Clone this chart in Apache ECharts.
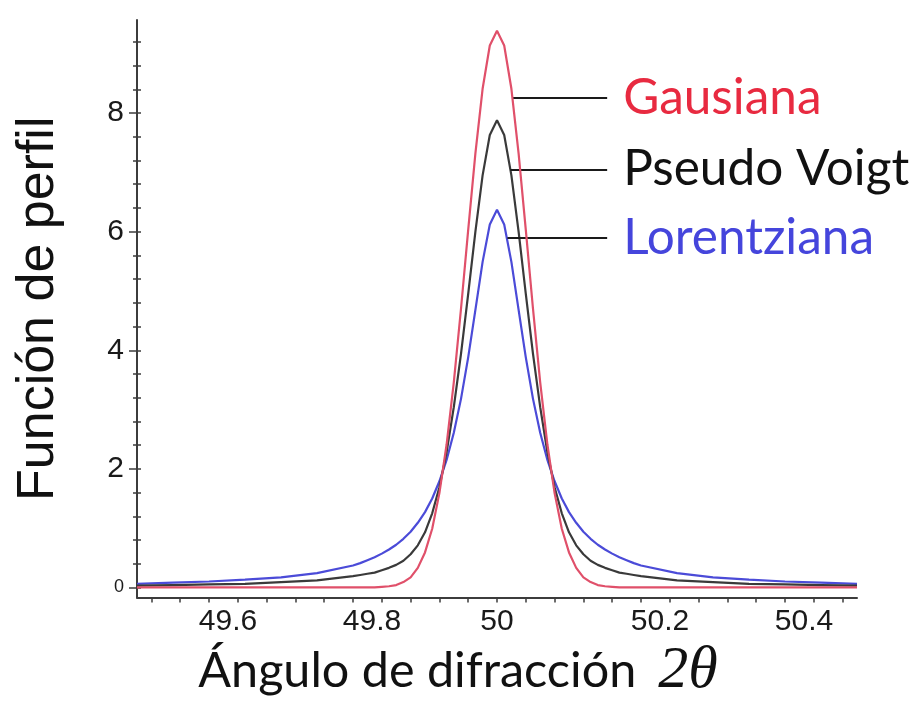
<!DOCTYPE html>
<html>
<head>
<meta charset="utf-8">
<script src="https://cdn.jsdelivr.net/npm/echarts@6/dist/echarts.min.js"></script>
<style>
  html, body { margin: 0; padding: 0; background: #fff; }
  #chart { width: 915px; height: 704px; }
</style>
</head>
<body>
<div id="chart"></div>
<script>
// Diffraction angle 2θ (degrees)
const angle = [
  49.5, 49.55, 49.6, 49.65, 49.7, 49.75,
  49.8, 49.81, 49.82, 49.83, 49.84, 49.85, 49.86, 49.87, 49.88, 49.89,
  49.9, 49.91, 49.92, 49.93, 49.94, 49.95, 49.96, 49.97, 49.98, 49.99,
  50,
  50.01, 50.02, 50.03, 50.04, 50.05, 50.06, 50.07, 50.08, 50.09, 50.1,
  50.11, 50.12, 50.13, 50.14, 50.15, 50.16, 50.17, 50.18, 50.19, 50.2,
  50.25, 50.3, 50.35, 50.4, 50.45, 50.5
];

// Profile function values for each line shape
const gausiana = [
  0, 0, 0, 0, 0, 0,
  0, 0, 0, 0, 0.01, 0.02, 0.04, 0.09, 0.17, 0.33,
  0.59, 0.99, 1.59, 2.41, 3.46, 4.70, 6.03, 7.32, 8.41, 9.14,
  9.39,
  9.14, 8.41, 7.32, 6.03, 4.70, 3.46, 2.41, 1.59, 0.99, 0.59,
  0.33, 0.17, 0.09, 0.04, 0.02, 0.01, 0, 0, 0, 0,
  0, 0, 0, 0, 0, 0
];
const pseudoVoigt = [
  0.03, 0.04, 0.05, 0.06, 0.09, 0.12,
  0.19, 0.21, 0.23, 0.25, 0.29, 0.33, 0.38, 0.45, 0.56, 0.71,
  0.93, 1.25, 1.69, 2.28, 3.04, 3.94, 4.95, 6.00, 6.95, 7.63,
  7.88,
  7.63, 6.95, 6.00, 4.95, 3.94, 3.04, 2.28, 1.69, 1.25, 0.93,
  0.71, 0.56, 0.45, 0.38, 0.33, 0.29, 0.25, 0.23, 0.21, 0.19,
  0.12, 0.09, 0.06, 0.05, 0.04, 0.03
];
const lorentziana = [
  0.06, 0.08, 0.10, 0.13, 0.17, 0.24,
  0.37, 0.41, 0.46, 0.51, 0.57, 0.64, 0.72, 0.82, 0.94, 1.09,
  1.27, 1.50, 1.79, 2.15, 2.61, 3.18, 3.88, 4.68, 5.49, 6.12,
  6.37,
  6.12, 5.49, 4.68, 3.88, 3.18, 2.61, 2.15, 1.79, 1.50, 1.27,
  1.09, 0.94, 0.82, 0.72, 0.64, 0.57, 0.51, 0.46, 0.41, 0.37,
  0.24, 0.17, 0.13, 0.10, 0.08, 0.06
];

// Axis tick values
const xLabelTicks = [49.6, 49.8, 50, 50.2, 50.4];
const xMinorTicks = [49.52, 49.56, 49.6, 49.64, 49.68, 49.72, 49.76, 49.8, 49.84, 49.88, 49.92, 49.96,
  50, 50.04, 50.08, 50.12, 50.16, 50.2, 50.24, 50.28, 50.32, 50.36, 50.4, 50.44, 50.48];
const yLabelTicks = [0, 2, 4, 6, 8];
const yMinorTicks = [0, 0.4, 0.8, 1.2, 1.6, 2, 2.4, 2.8, 3.2, 3.6, 4, 4.4, 4.8, 5.2, 5.6, 6,
  6.4, 6.8, 7.2, 7.6, 8, 8.4, 8.8, 9.2];

// Callout anchors: [angle on the curve, profile height, angle where the leader ends]
const callouts = {
  'Gausiana':     [50.0216, 8.26, 50.153],
  'Pseudo Voigt': [50.0185, 7.05, 50.153],
  'Lorentziana':  [50.0145, 5.90, 50.153]
};

const X_MIN = 49.5, X_MAX = 50.5, Y_MIN = -0.17, Y_MAX = 9.57;
const AXIS_COLOR = '#3c3c3c';

function pairs(ys) { return angle.map((x, i) => [x, ys[i]]); }

function calloutLine(name, color) {
  const c = callouts[name];
  return {
    silent: true,
    symbol: 'none',
    animation: false,
    lineStyle: { color: '#1a1a1a', width: 2, type: 'solid' },
    label: {
      show: true,
      position: 'end',
      distance: 16,
      formatter: name,
      color: color,
      fontFamily: 'Lato',
      fontSize: 49.5
    },
    data: [[{ coord: [c[0], c[1]] }, { coord: [c[2], c[1]] }]]
  };
}

function yAxisBase(extra) {
  return Object.assign({
    type: 'value',
    min: Y_MIN,
    max: Y_MAX,
    position: 'left',
    splitLine: { show: false },
    axisLine: { show: false, onZero: false },
    axisLabel: { show: false },
    axisTick: { show: false }
  }, extra);
}

const chart = echarts.init(document.getElementById('chart'), null, { renderer: 'canvas' });

chart.setOption({
  animation: false,
  backgroundColor: '#ffffff',
  grid: {
    left: 137, right: 58, top: 20, bottom: 106.5,
    containLabel: false,
    outerBoundsMode: 'none'
  },
  xAxis: {
    type: 'value',
    min: X_MIN,
    max: X_MAX,
    splitLine: { show: false },
    axisLine: { show: true, onZero: false, lineStyle: { color: AXIS_COLOR, width: 2 } },
    axisTick: {
      show: true, inside: false, length: 5,
      customValues: xMinorTicks,
      lineStyle: { color: AXIS_COLOR, width: 1.5 }
    },
    axisLabel: {
      show: true,
      customValues: xLabelTicks,
      margin: 9,
      formatter: v => (Math.abs(v - 50) < 1e-9 ? '{c|50}' : '{s|' + v.toFixed(1) + '}'),
      rich: {
        c: { fontFamily: 'Liberation Sans', fontSize: 30, color: '#1a1a1a' },
        s: { fontFamily: 'Liberation Sans', fontSize: 30, color: '#1a1a1a', padding: [0, 0, 0, 38] }
      }
    },
    name: '{a|Ángulo de difracción}{b|2θ}',
    nameLocation: 'middle',
    nameGap: 34,
    nameTextStyle: {
      padding: [0, 78, 0, 0],
      rich: {
        a: { fontFamily: 'Lato', fontSize: 48.5, color: '#111' },
        b: { fontFamily: 'Liberation Serif', fontStyle: 'italic', fontSize: 60, color: '#111', padding: [0, 0, 0, 22] }
      }
    }
  },
  yAxis: [
    yAxisBase({
      axisLine: { show: true, onZero: false, lineStyle: { color: AXIS_COLOR, width: 2 } },
      axisTick: {
        show: true, inside: false, length: 8,
        customValues: yLabelTicks,
        lineStyle: { color: AXIS_COLOR, width: 1.5 }
      },
      axisLabel: {
        show: true,
        customValues: yLabelTicks,
        margin: 13,
        formatter: v => (v === 0 ? '{z|0}' : '{n|' + v + '}'),
        rich: {
          n: { fontFamily: 'Liberation Sans', fontSize: 30, color: '#1a1a1a' },
          z: { fontFamily: 'Liberation Sans', fontSize: 18, color: '#1a1a1a' }
        }
      },
      name: 'Función de perfil',
      nameLocation: 'middle',
      nameGap: 72,
      nameTextStyle: { fontFamily: 'Liberation Sans', fontSize: 52, color: '#111' }
    }),
    yAxisBase({
      axisTick: {
        show: true, inside: false, length: 4,
        customValues: yMinorTicks,
        lineStyle: { color: AXIS_COLOR, width: 1.5 }
      }
    }),
    yAxisBase({
      axisTick: {
        show: true, inside: true, length: 4,
        customValues: yMinorTicks,
        lineStyle: { color: AXIS_COLOR, width: 1.5 }
      }
    })
  ],
  series: [
    {
      name: 'Lorentziana',
      type: 'line',
      data: pairs(lorentziana),
      showSymbol: false,
      smooth: false,
      lineStyle: { color: '#4b4bd8', width: 2.2 },
      z: 3,
      markLine: calloutLine('Lorentziana', '#4545dc')
    },
    {
      name: 'Pseudo Voigt',
      type: 'line',
      data: pairs(pseudoVoigt),
      showSymbol: false,
      smooth: false,
      lineStyle: { color: '#3a3a3a', width: 2.2 },
      z: 4,
      markLine: calloutLine('Pseudo Voigt', '#111111')
    },
    {
      name: 'Gausiana',
      type: 'line',
      data: pairs(gausiana),
      showSymbol: false,
      smooth: false,
      lineStyle: { color: '#e0506a', width: 2.2 },
      z: 5,
      markLine: calloutLine('Gausiana', '#e82a40')
    }
  ]
});
</script>
</body>
</html>
